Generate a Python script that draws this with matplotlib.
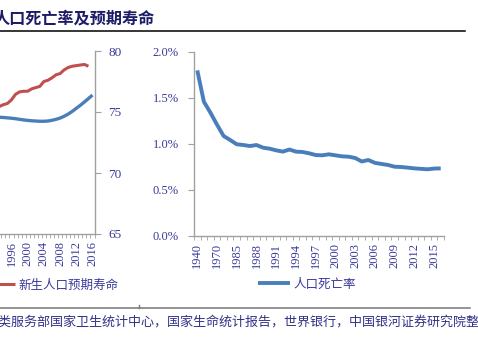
import numpy as np
import matplotlib
matplotlib.use("Agg")
import matplotlib.pyplot as plt
from matplotlib.lines import Line2D

plt.rcParams['font.family'] = ['Liberation Serif', 'Noto Sans CJK SC']

# left chart (cropped): years, life expectancy (red) and the other series (blue)
left_years = list(range(1990, 2017))
life_exp = [75.3, 75.4, 75.45, 75.45, 75.6, 75.7, 76.0, 76.45, 76.65, 76.7,
            76.7, 76.9, 77.0, 77.1, 77.5, 77.6, 77.8, 78.05, 78.15, 78.45,
            78.65, 78.75, 78.8, 78.85, 78.9, 78.75, np.nan]
blue_left = [74.7, 74.65, 74.6, 74.57, 74.55, 74.52, 74.49, 74.45, 74.4, 74.35,
             74.31, 74.28, 74.26, 74.24, 74.24, 74.26, 74.32, 74.4, 74.5, 74.65,
             74.83, 75.05, 75.3, 75.55, 75.82, 76.1, 76.39]

# right chart: death rate (%)
right_years = ['1940', '1950', '1960', '1970', '1975', '1980'] + [str(y) for y in range(1985, 2017)]
death_rate = [1.80, 1.46, 1.34, 1.21, 1.087, 1.043, 0.997, 0.989, 0.978, 0.989,
              0.96, 0.949, 0.931, 0.917, 0.94, 0.917, 0.913, 0.899, 0.88, 0.877,
              0.888, 0.877, 0.866, 0.862, 0.848, 0.81, 0.826, 0.795, 0.783, 0.772,
              0.753, 0.75, 0.743, 0.735, 0.73, 0.725, 0.733, 0.735]

tick_color = '#3a3a9a'
spine_color = '#a0a0a0'
blue = '#4A7EBB'
red = '#C0504D'
W, H = 478, 343

fig = plt.figure(figsize=(W / 100, H / 100), dpi=100)

# ---- left chart (extends beyond the left edge) ----
n_left = len(left_years)
right_px = 94.5
left_px = right_px - n_left * 4.05
ax1 = fig.add_axes([left_px / W, (H - 234) / H, (right_px - left_px) / W, 183 / H])
xl = np.arange(n_left)
ax1.plot(xl, blue_left, color=blue, lw=2.4, solid_capstyle='butt')
red_line, = ax1.plot(xl, life_exp, color=red, lw=2.2, solid_capstyle='butt')
ax1.set_xlim(-0.5, n_left - 0.5)
ax1.set_ylim(65, 80)
ax1.yaxis.tick_right()
ax1.set_yticks([65, 70, 75, 80])
for s in ['left', 'top']:
    ax1.spines[s].set_visible(False)
for s in ['right', 'bottom']:
    ax1.spines[s].set_color(spine_color)
    ax1.spines[s].set_linewidth(1.0)
lab_idx = [i for i, y in enumerate(left_years) if (2016 - y) % 4 == 0 and y >= 1996]
ax1.set_xticks(lab_idx)
ax1.set_xticklabels([str(left_years[i]) for i in lab_idx], rotation=90)
ax1.set_xticks(np.arange(-0.5, n_left, 1), minor=True)
ax1.tick_params(axis='x', which='major', length=0, pad=5, labelsize=9, labelcolor=tick_color)
ax1.tick_params(axis='x', which='minor', length=3, color=spine_color, direction='out')
ax1.tick_params(axis='y', length=4, color=spine_color, direction='out', pad=6,
                labelsize=9.5, labelcolor=tick_color)

# ---- right chart ----
n_right = len(right_years)
ax2 = fig.add_axes([194 / W, (H - 236) / H, 250 / W, 184 / H])
xr = np.arange(n_right)
death_line, = ax2.plot(xr, death_rate, color=blue, lw=2.8, solid_capstyle='butt')
ax2.set_xlim(-0.5, n_right - 0.5)
ax2.set_ylim(0, 2.0)
ax2.set_yticks([0, 0.5, 1.0, 1.5, 2.0])
ax2.set_yticklabels(['0.0%', '0.5%', '1.0%', '1.5%', '2.0%'])
for s in ['right', 'top']:
    ax2.spines[s].set_visible(False)
for s in ['left', 'bottom']:
    ax2.spines[s].set_color(spine_color)
    ax2.spines[s].set_linewidth(1.0)
r_idx = list(range(0, n_right, 3))
ax2.set_xticks(r_idx)
ax2.set_xticklabels([right_years[i] for i in r_idx], rotation=90)
ax2.set_xticks(np.arange(-0.5, n_right, 1), minor=True)
ax2.tick_params(axis='x', which='major', length=0, pad=5, labelsize=9, labelcolor=tick_color)
ax2.tick_params(axis='x', which='minor', length=3, color=spine_color, direction='out')
ax2.tick_params(axis='y', length=4, color=spine_color, direction='out', pad=7,
                labelsize=9, labelcolor=tick_color)

# ---- legends ----
cjk = ['Noto Sans CJK SC', 'DejaVu Sans']
leg1 = fig.legend([red_line], ['新生人口预期寿命'], loc='center left',
                  bbox_to_anchor=(-17 / W, 58 / H), frameon=False, borderpad=0,
                  borderaxespad=0, handlelength=2.56, handletextpad=0.3,
                  prop={'family': cjk, 'size': 9})
for t in leg1.get_texts():
    t.set_color(tick_color)
leg2 = fig.legend([death_line], ['人口死亡率'], loc='center left',
                  bbox_to_anchor=(258 / W, 59 / H), frameon=False, borderpad=0,
                  borderaxespad=0, handlelength=2.56, handletextpad=0.3,
                  prop={'family': cjk, 'size': 9})
for t in leg2.get_texts():
    t.set_color(tick_color)

# ---- title, rules and source ----
fig.text(155 / W, (H - 18) / H, '人口死亡率及预期寿命', family=cjk, fontsize=11.6,
         fontweight='bold', color='#1c1c66', ha='right', va='center')
fig.add_artist(Line2D([0, 465 / W], [(H - 31) / H] * 2, color='black', lw=1.1))
fig.add_artist(Line2D([0, 470 / W], [(H - 308) / H] * 2, color='#777777', lw=1.1))
fig.add_artist(Line2D([139 / W] * 2, [(H - 308) / H, (H - 305) / H], color='#777777', lw=1.0))
fig.text(492 / W, (H - 322) / H,
         '资料来源：美国卫生与人类服务部国家卫生统计中心，国家生命统计报告，世界银行，中国银河证券研究院整理',
         family=cjk, fontsize=9.4, color='#33338a', ha='right', va='center')

fig.savefig('out.png', dpi=100)
